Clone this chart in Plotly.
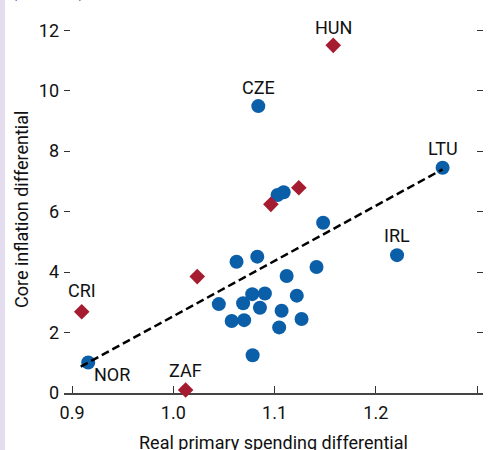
import plotly.graph_objects as go

# --- data ---
blue_x = [1.084, 1.266, 1.103, 1.109, 1.148, 1.221, 1.0625, 1.083, 1.1415, 1.112,
          1.078, 1.0905, 1.045, 1.069, 1.0856, 1.122, 1.107, 1.0577, 1.070, 1.1267,
          1.1046, 1.0784, 0.916]
blue_y = [9.49, 7.45, 6.55, 6.64, 5.63, 4.56, 4.34, 4.51, 4.17, 3.87,
          3.27, 3.29, 2.94, 2.97, 2.82, 3.22, 2.72, 2.38, 2.41, 2.45,
          2.17, 1.25, 1.01]

red_x = [1.158, 1.0964, 1.124, 1.0237, 0.9096, 1.0122]
red_y = [11.5, 6.24, 6.79, 3.85, 2.69, 0.10]

fit_x = [0.9086, 1.266]
fit_y = [0.87, 7.40]

label_names = ["HUN", "CZE", "LTU", "IRL", "CRI", "NOR", "ZAF"]
label_x = [1.158, 1.084, 1.266, 1.221, 0.9096, 0.916, 1.0122]
label_y = [11.5, 9.49, 7.45, 4.56, 2.69, 1.01, 0.10]
label_dx = [0, 0, 0, 0, 0, 24, 0]
label_dy = [18, 19, 19, 20, 21, -12, 19]

x_ticks = [0.9, 1.0, 1.1, 1.2, 1.3]
x_ticklabels = ["0.9", "1.0", "1.1", "1.2", "1.3"]
y_ticks = [0, 2, 4, 6, 8, 10, 12]
y_ticklabels = ["0", "2", "4", "6", "8", "10", "12"]

FONT = "Roboto, Liberation Sans Narrow, sans-serif"
BLUE = "#0b5ea8"
RED = "#a51c30"

fig = go.Figure()
fig.add_trace(go.Scatter(x=blue_x, y=blue_y, mode="markers",
                         marker=dict(symbol="circle", size=14, color=BLUE, line=dict(width=0)),
                         cliponaxis=False, showlegend=False, hoverinfo="skip"))
fig.add_trace(go.Scatter(x=red_x, y=red_y, mode="markers",
                         marker=dict(symbol="diamond", size=12, color=RED, line=dict(width=0)),
                         cliponaxis=False, showlegend=False, hoverinfo="skip"))
fig.add_trace(go.Scatter(x=fit_x, y=fit_y, mode="lines",
                         line=dict(color="black", width=2.5, dash="8px,4px"),
                         cliponaxis=False, showlegend=False, hoverinfo="skip"))

annotations = []
for n, x, y, dx, dy in zip(label_names, label_x, label_y, label_dx, label_dy):
    annotations.append(dict(x=x, y=y, xref="x", yref="y", text=n, showarrow=False,
                            xshift=dx, yshift=dy, xanchor="center", yanchor="middle",
                            font=dict(family=FONT, size=18, color="#111")))

# axis titles
annotations.append(dict(x=0.5, y=-0.1247, xref="paper", yref="paper",
                        text="Real primary spending differential", showarrow=False,
                        xanchor="center", yanchor="middle",
                        font=dict(family=FONT, size=18, color="#111")))
annotations.append(dict(x=-0.1026, y=0.4656, xref="paper", yref="paper",
                        text="Core inflation differential", showarrow=False, textangle=-90,
                        xanchor="center", yanchor="middle",
                        font=dict(family=FONT, size=18, color="#111")))
# clipped unit text at top
annotations.append(dict(x=-0.0382, y=0.9898, xref="paper", yref="paper",
                        text="(Percent)", showarrow=False,
                        xanchor="center", yanchor="bottom",
                        font=dict(family=FONT, size=18, color="#6f4e9e")))

fig.update_layout(
    width=488, height=450,
    margin=dict(l=64, r=5, t=0, b=57),
    paper_bgcolor="white", plot_bgcolor="white",
    annotations=annotations,
    shapes=[dict(type="rect", xref="paper", yref="paper",
                 x0=-0.1527, x1=-0.1408, y0=-0.2, y1=1.05,
                 fillcolor="#e4ddef", line=dict(width=0), layer="below")],
    font=dict(family=FONT, size=18, color="#111"),
)
fig.update_xaxes(range=[0.8921, 1.3059], tickmode="array", tickvals=x_ticks,
                 ticktext=x_ticklabels, ticks="inside", ticklen=7, tickwidth=1.2,
                 tickcolor="#333", showline=True, linecolor="#444", linewidth=1.5,
                 showgrid=False, zeroline=False, layer="below traces",
                 ticklabelstandoff=3,
                 tickfont=dict(family=FONT, size=18, color="#111"))
fig.update_yaxes(range=[0, 13], tickmode="array", tickvals=y_ticks,
                 ticktext=y_ticklabels, ticks="inside", ticklen=6, tickwidth=1.2,
                 tickcolor="#333", showline=False, mirror="ticks",
                 showgrid=False, zeroline=False, ticklabelstandoff=4,
                 tickfont=dict(family=FONT, size=18, color="#111"))

fig.write_html("out.html")
